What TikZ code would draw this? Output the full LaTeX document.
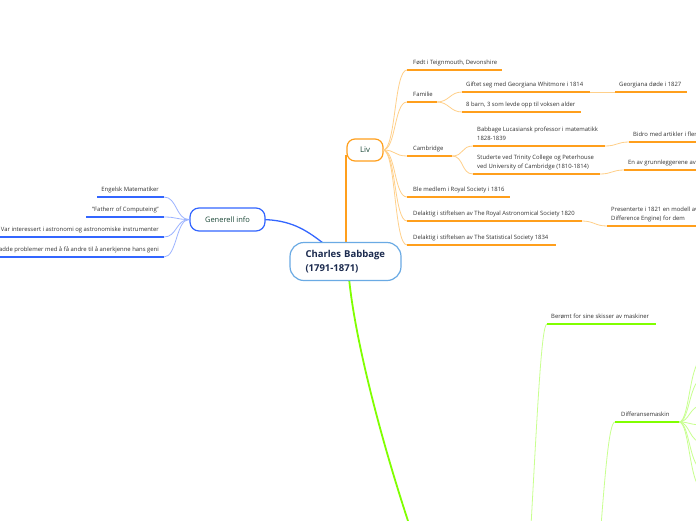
\documentclass[tikz,border=0pt]{standalone}
\usepackage{fontspec}
\setmainfont{Open Sans}
\definecolor{orM}{HTML}{FF9F1C}
\definecolor{orL}{HTML}{FFD08A}
\definecolor{blM}{HTML}{3366FF}
\definecolor{blL}{HTML}{9DB4FF}
\definecolor{grM}{HTML}{80FF00}
\definecolor{grL}{HTML}{C8FF8F}
\definecolor{rootB}{HTML}{6AAAE4}
\definecolor{txt}{HTML}{333333}
\definecolor{navy}{HTML}{1B2A4E}
\definecolor{dgreen}{HTML}{1E4A3A}
\begin{document}
\begin{tikzpicture}[x=1pt,y=-1pt,
  small/.style={font=\fontsize{5.9}{9}\selectfont, text=txt, inner sep=0pt, text depth=0pt, align=left, anchor=south west},
  smallr/.style={small, anchor=south east, align=right},
  ulO/.style={draw=orM, line width=1.7pt},
  ulB/.style={draw=blM, line width=1.7pt},
  ulG/.style={draw=grM, line width=1.7pt},
  cO/.style={draw=orL, line width=0.8pt},
  cB/.style={draw=blL, line width=0.8pt},
  cG/.style={draw=grL, line width=0.8pt},
  topic/.style={fill=white, line width=1.2pt, inner sep=0pt, text=dgreen}
]
\useasboundingbox[fill=white] (0,0) rectangle (696,520);

% ---------- main connectors ----------
\coordinate (livDown) at (346,155);
\coordinate (rootTopL) at (346,244);
\coordinate (rootTopG) at (323,243);
\coordinate (genR) at (262,219.5);
\coordinate (rootBot) at (349,278);
\coordinate (greenEnd) at (411,530);
\draw[draw=orM, line width=1.8pt] (livDown) -- (rootTopL);
\draw[draw=blM, line width=1.3pt] (genR) .. controls (290,220) and (305,229) .. (rootTopG);
\draw[draw=grM, line width=1.8pt] (rootBot) .. controls (355,340) and (381,440) .. (greenEnd);

% ---------- nodes ----------
\node[draw=rootB, line width=1.2pt, rounded corners=14pt, fill=white,
      minimum width=111pt, minimum height=38pt, inner xsep=15.5pt, inner ysep=0pt,
      text width=80pt, align=left, text=navy,
      font=\fontsize{9.5}{14}\selectfont\bfseries] (root) at (345.5,261.5) {Charles Babbage\\(1791-1871)};
\node[topic, draw=orM, rounded corners=8pt, minimum width=36pt, minimum height=22pt,
      font=\fontsize{7.8}{9}\selectfont] (liv) at (365,150) {Liv};
\node[topic, draw=blM, rounded corners=9pt, minimum width=75pt, minimum height=23pt,
      font=\fontsize{7.5}{9}\selectfont] (gen) at (227.5,219.5) {Generell info};

% ---------- Liv branch ----------
\coordinate (livR) at (383,150);
\coordinate (fodtL) at (407,70);  \coordinate (fodtR) at (502,70);
\coordinate (famL) at (407,102);  \coordinate (famR) at (437,102);
\coordinate (camL) at (407,156);  \coordinate (camR) at (452,156);
\coordinate (bleL) at (407,197);  \coordinate (bleR) at (510,197);
\coordinate (rasL) at (407,221);  \coordinate (rasR) at (582,221);
\coordinate (statL) at (407,245); \coordinate (statR) at (556,245);
\coordinate (giftL) at (462,92);  \coordinate (giftR) at (590,92);
\coordinate (georgL) at (615,92); \coordinate (georgR) at (687,92);
\coordinate (barnL) at (462,112); \coordinate (barnR) at (581,112);
\coordinate (babL) at (473,146);  \coordinate (babR) at (605,146);
\coordinate (bidL) at (629,142);  \coordinate (bidR) at (700,142);
\coordinate (studL) at (473,174); \coordinate (studR) at (600,174);
\coordinate (enL) at (624,170);   \coordinate (enR) at (700,170);
\coordinate (presL) at (607,226); \coordinate (presR) at (700,226);

\foreach \c in {fodtL,famL,camL,bleL,rasL,statL}
  \draw[cO] (livR) .. controls +(13,0) and +(-13,0) .. (\c);
\foreach \c in {giftL,barnL}
  \draw[cO] (famR) .. controls +(12,0) and +(-12,0) .. (\c);
\foreach \c in {babL,studL}
  \draw[cO] (camR) .. controls +(12,0) and +(-12,0) .. (\c);
\draw[cO] (giftR) -- (georgL);
\draw[cO] (babR) .. controls +(12,0) and +(-12,0) .. (bidL);
\draw[cO] (studR) .. controls +(12,0) and +(-12,0) .. (enL);
\draw[cO] (rasR) .. controls +(12,0) and +(-12,0) .. (presL);

\foreach \a/\b in {fodtL/fodtR,famL/famR,camL/camR,bleL/bleR,rasL/rasR,statL/statR,
                   giftL/giftR,georgL/georgR,barnL/barnR,babL/babR,bidL/bidR,
                   studL/studR,enL/enR,presL/presR}
  \draw[ulO] (\a) -- (\b);

\node[small] (fodt) at (413,65) {Født i Teignmouth, Devonshire};
\node[small] (fam) at (413,97) {Familie};
\node[small] (cam) at (413,151) {Cambridge};
\node[small] (ble) at (413,192) {Ble medlem i Royal Society i 1816};
\node[small] (ras) at (413,216) {Delaktig i stiftelsen av The Royal Astronomical Society 1820};
\node[small] (stat) at (413,240) {Delaktig i stiftelsen av The Statistical Society 1834};
\node[small] (gift) at (466,87) {Giftet seg med Georgiana Whitmore i 1814};
\node[small] (georg) at (619,87) {Georgiana døde i 1827};
\node[small] (barn) at (466,107) {8 barn, 3 som levde opp til voksen alder};
\node[small] (bab) at (477,141) {Babbage Lucasiansk professor i matematikk\\1828-1839};
\node[small] (bid) at (633,137) {Bidro med artikler i flere};
\node[small] (stud) at (477,169) {Studerte ved Trinity College og Peterhouse\\ved University of Cambridge (1810-1814)};
\node[small] (en) at (628,165) {En av grunnleggerene av};
\node[small] (pres) at (611,221) {Presenterte i 1821 en modell av\\Difference Engine) for dem};

% ---------- Generell info branch ----------
\coordinate (genL) at (189,219.5);
\coordinate (engL) at (97,197);  \coordinate (engR) at (164,197);
\coordinate (fathL) at (86,217); \coordinate (fathR) at (164,217);
\coordinate (varL) at (-2,237);  \coordinate (varR) at (164,237);
\coordinate (hadL) at (-2,257);  \coordinate (hadR) at (164,257);
\foreach \c in {engR,fathR,varR,hadR}
  \draw[cB] (genL) .. controls +(-13,0) and +(13,0) .. (\c);
\foreach \a/\b in {engL/engR,fathL/fathR,varL/varR,hadL/hadR}
  \draw[ulB] (\a) -- (\b);
\node[smallr] (eng) at (159,192) {Engelsk Matematiker};
\node[smallr] (fath) at (159,212) {"Fatherr of Computeing"};
\node[smallr] (var) at (159,232) {Var interessert i astronomi og astronomiske instrumenter};
\node[smallr] (had) at (159,252) {Hadde problemer med å få andre til å anerkjenne hans geni};

% ---------- green branch ----------
\coordinate (berL) at (547,324); \coordinate (berR) at (656,324);
\coordinate (difL) at (615,422); \coordinate (difR) at (679,422);
\coordinate (gpar1) at (528,580);
\coordinate (gpar2) at (597,580);
\draw[cG] (berL) .. controls (541,324) and (537,420) .. (gpar1);
\draw[cG] (difL) .. controls (609,422) and (605,470) .. (gpar2);
\foreach \y [count=\i] in {358,378,405,425,443,470,490} {
  \coordinate (dc\i) at (704,\y);
  \draw[cG] (difR) .. controls (690,422) and (689,\y) .. (dc\i);
}
\draw[ulG] (berL) -- (berR);
\draw[ulG] (difL) -- (difR);
\node[small] (ber) at (551,319) {Berømt for sine skisser av maskiner};
\node[small] (dif) at (621,417) {Differansemaskin};
\end{tikzpicture}
\end{document}
